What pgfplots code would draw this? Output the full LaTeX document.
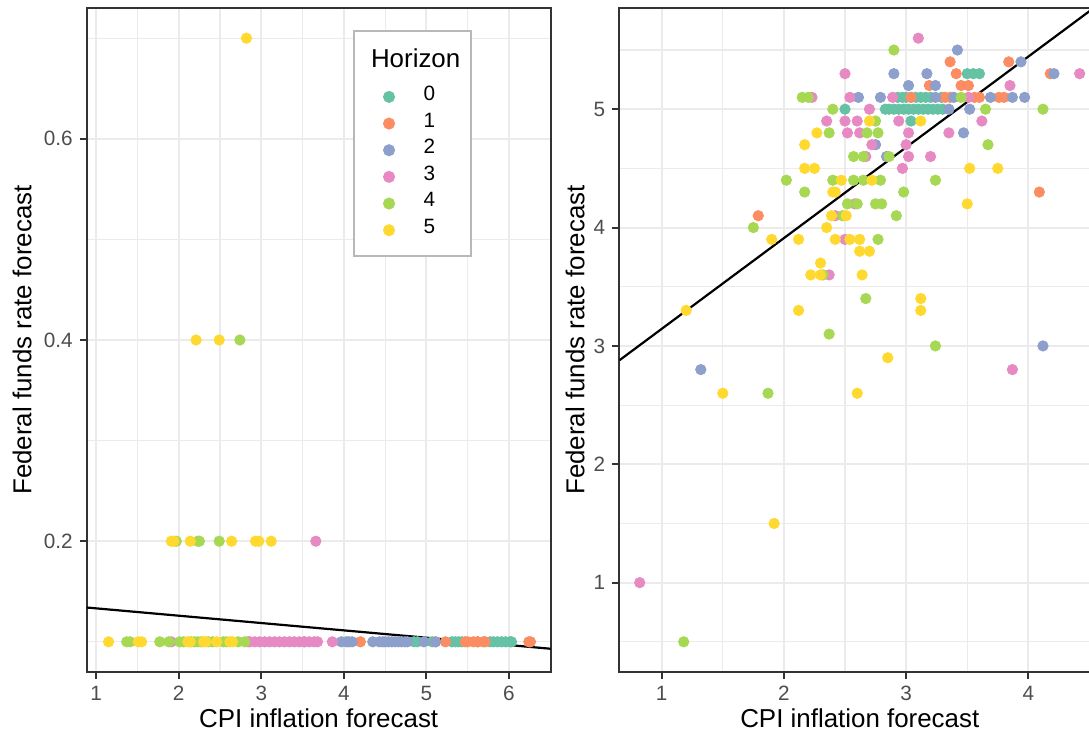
\documentclass[border=0pt]{standalone}
\usepackage{fontspec}
\setmainfont{Liberation Sans}
\usepackage{pgfplots}
\pgfplotsset{compat=1.18}

\definecolor{hzero}{RGB}{102,194,165}
\definecolor{hone}{RGB}{252,141,98}
\definecolor{htwo}{RGB}{141,160,203}
\definecolor{hthree}{RGB}{231,138,195}
\definecolor{hfour}{RGB}{166,216,84}
\definecolor{hfive}{RGB}{255,217,47}
\definecolor{gridcol}{RGB}{235,235,235}
\definecolor{ticktxt}{RGB}{77,77,77}
\definecolor{framecol}{RGB}{51,51,51}

\pgfplotsset{
  ggbw/.style={
    scale only axis,
    height=332bp,
    axis line style={framecol, line width=1bp},
    major tick style={framecol, line width=1bp},
    tick align=outside, tick pos=left,
    major tick length=3.5bp, minor tick length=0pt,
    grid=both,
    major grid style={gridcol, line width=1bp},
    minor grid style={gridcol, line width=0.55bp},
    ticklabel style={font=\fontsize{10.4}{12}\selectfont, text=ticktxt},
    label style={font=\fontsize{13}{15}\selectfont},
    /pgf/number format/assume math mode=true,
  },
  pts/.style={only marks, mark=*, mark size=2.6bp, mark options={draw=#1, fill=#1}, color=#1},
}
\tikzset{
  entry/.style={text height=8.39bp, text depth=4.94bp},
  legtitle/.style={text height=12.02bp, text depth=8.18bp},
}
\newcommand\hz[1]{\makebox[23.65bp][l]{#1}}

\begin{document}
\begin{tikzpicture}
\path[use as bounding box] (0,0) rectangle (544.5bp,368bp);

% ---------- left panel ----------
\begin{axis}[ggbw,
  at={(43.35bp,32bp)}, anchor=south west,
  width=232bp,
  xmin=0.885, xmax=6.505,
  ymin=0.07, ymax=0.73,
  xtick={1,2,3,4,5,6},
  minor xtick={1.5,2.5,3.5,4.5,5.5,6.5},
  ytick={0.2,0.4,0.6},
  minor ytick={0.1,0.3,0.5,0.7},
  yticklabel style={/pgf/number format/fixed, /pgf/number format/precision=1, /pgf/number format/fixed zerofill},
  xlabel={CPI inflation forecast},
  ylabel={Federal funds rate forecast},
  xlabel style={at={(axis description cs:0.5,-0.083)}, anchor=base},
  ylabel style={at={(axis description cs:-0.139,0.5)}, anchor=center},
  legend style={at={(axis description cs:0.574,0.967)}, anchor=north west,
    draw=black!28, line width=1bp, fill=white,
    font=\fontsize{10.4}{12}\selectfont,
    column sep=0pt, row sep=0pt, inner xsep=0pt, inner ysep=6.13bp,
    nodes={inner sep=0pt, anchor=west}},
  legend cell align=left,
  legend image code/.code={\draw[#1, mark size=2.5bp] plot coordinates {(0bp,0bp)}; \path (-17bp,0bp) (16.85bp,0bp);},
]
\addlegendimage{empty legend}
\addlegendentry[legtitle]{\makebox[0pt][l]{\hspace*{-26.85bp}\fontsize{13}{15}\selectfont Horizon}}

\addplot[pts=hzero] coordinates {
(4.85,0.1) (4.89,0.1) (5.07,0.1) (5.31,0.1) (5.35,0.1) (5.39,0.1) (5.43,0.1)
(5.62,0.1) (5.77,0.1) (5.81,0.1) (5.86,0.1) (5.91,0.1) (5.96,0.1) (6.01,0.1) (6.03,0.1)};
\addlegendentry[entry]{\hz{0}}

\addplot[pts=hone] coordinates {
(4.20,0.1) (5.11,0.1) (5.23,0.1) (5.47,0.1) (5.50,0.1) (5.57,0.1) (5.62,0.1)
(5.69,0.1) (5.71,0.1) (6.24,0.1) (6.26,0.1)};
\addlegendentry[entry]{\hz{1}}

\addplot[pts=htwo] coordinates {
(3.52,0.1) (3.97,0.1) (4.03,0.1) (4.06,0.1) (4.10,0.1) (4.35,0.1) (4.43,0.1)
(4.47,0.1) (4.50,0.1) (4.54,0.1) (4.58,0.1) (4.62,0.1) (4.66,0.1) (4.70,0.1)
(4.74,0.1) (4.77,0.1) (4.97,0.1) (5.11,0.1)};
\addlegendentry[entry]{\hz{2}}

\addplot[pts=hthree] coordinates {
(1.91,0.1) (2.84,0.1) (2.86,0.1) (2.92,0.1) (2.98,0.1) (3.04,0.1) (3.10,0.1)
(3.16,0.1) (3.22,0.1) (3.28,0.1) (3.34,0.1) (3.40,0.1) (3.46,0.1) (3.52,0.1)
(3.58,0.1) (3.64,0.1) (3.68,0.1) (3.86,0.1) (3.66,0.2)};
\addlegendentry[entry]{\hz{3}}

\addplot[pts=hfour] coordinates {
(1.37,0.1) (1.41,0.1) (1.77,0.1) (1.88,0.1) (2.01,0.1) (2.06,0.1) (2.15,0.1)
(2.19,0.1) (2.23,0.1) (2.27,0.1) (2.36,0.1) (2.41,0.1) (2.54,0.1) (2.58,0.1)
(2.72,0.1) (2.80,0.1)
(1.97,0.2) (2.23,0.2) (2.25,0.2) (2.49,0.2) (2.74,0.4)};
\addlegendentry[entry]{\hz{4}}

\addplot[pts=hfive] coordinates {
(1.15,0.1) (1.51,0.1) (1.55,0.1) (2.11,0.1) (2.14,0.1) (2.30,0.1) (2.33,0.1)
(2.46,0.1) (2.62,0.1) (2.65,0.1)
(1.91,0.2) (1.94,0.2) (2.14,0.2) (2.64,0.2) (2.93,0.2) (2.97,0.2) (3.12,0.2)
(2.21,0.4) (2.49,0.4) (2.82,0.7)};
\addlegendentry[entry]{\hz{5}}

\addplot[black, line width=1.1bp, forget plot] coordinates {(0.885,0.1341) (6.505,0.0931)};
\end{axis}

% ---------- right panel ----------
\begin{axis}[ggbw,
  at={(309.65bp,32bp)}, anchor=south west,
  width=240bp,
  xmin=0.653, xmax=4.581,
  ymin=0.245, ymax=5.855,
  xtick={1,2,3,4},
  minor xtick={1.5,2.5,3.5,4.5},
  ytick={1,2,3,4,5},
  minor ytick={0.5,1.5,2.5,3.5,4.5,5.5},
  xlabel={CPI inflation forecast},
  ylabel={Federal funds rate forecast},
  xlabel style={at={(axis description cs:0.501,-0.083)}, anchor=base},
  ylabel style={at={(axis description cs:-0.0923,0.5)}, anchor=center},
]
\addplot[pts=hzero] coordinates {
(2.50,5.0) (3.04,4.9)
(2.93,5.1) (2.97,5.1) (3.00,5.1) (3.04,5.1) (3.08,5.1) (3.12,5.1) (3.16,5.1) (3.20,5.1) (3.29,5.1)
(2.83,5.0) (2.86,5.0) (2.90,5.0) (2.94,5.0) (2.98,5.0) (3.02,5.0) (3.06,5.0) (3.10,5.0)
(3.14,5.0) (3.18,5.0) (3.22,5.0) (3.26,5.0) (3.30,5.0)
(3.50,5.3) (3.55,5.3) (3.60,5.3)};

\addplot[pts=hone] coordinates {
(3.36,5.4) (3.84,5.4) (3.41,5.3) (4.18,5.3) (3.19,5.2) (3.45,5.2) (3.51,5.2)
(3.04,5.1) (3.32,5.1) (3.36,5.1) (3.56,5.1) (3.60,5.1) (3.76,5.1) (3.80,5.1)
(4.09,4.3) (1.79,4.1)};

\addplot[pts=htwo] coordinates {
(3.42,5.5) (3.94,5.4) (2.90,5.3) (3.17,5.3) (4.21,5.3) (3.02,5.2) (3.24,5.2)
(2.61,5.1) (2.79,5.1) (3.24,5.1) (3.39,5.1) (3.69,5.1) (3.87,5.1) (3.97,5.1)
(3.35,5.0) (3.52,5.0) (3.47,4.8) (2.75,4.7) (2.84,4.6) (4.12,3.0) (1.32,2.8)};

\addplot[pts=hthree] coordinates {
(3.10,5.6) (2.50,5.3) (4.42,5.3) (3.85,5.2)
(2.23,5.1) (2.54,5.1) (2.89,5.1) (3.51,5.1) (2.70,5.0)
(2.35,4.9) (2.50,4.9) (2.60,4.9) (2.94,4.9) (3.62,4.9)
(2.52,4.8) (2.62,4.8) (3.02,4.8) (3.35,4.8)
(2.72,4.7) (3.00,4.7) (2.67,4.6) (3.02,4.6) (3.20,4.6) (2.97,4.5)
(2.58,4.2) (2.42,4.1) (2.50,3.9) (2.37,3.6) (3.87,2.8) (0.82,1.0)};

\addplot[pts=hfour] coordinates {
(2.90,5.5) (2.15,5.1) (2.20,5.1) (3.45,5.1) (2.40,5.0) (3.65,5.0) (4.12,5.0)
(2.75,4.9) (2.37,4.8) (2.68,4.8) (2.77,4.8) (3.67,4.7)
(2.57,4.6) (2.65,4.6) (2.86,4.6)
(2.02,4.4) (2.40,4.4) (2.57,4.4) (2.65,4.4) (2.79,4.4) (3.24,4.4)
(2.17,4.3) (2.98,4.3) (2.52,4.2) (2.60,4.2) (2.75,4.2) (2.80,4.2)
(2.48,4.1) (2.92,4.1) (1.75,4.0) (2.77,3.9) (2.32,3.6) (2.67,3.4)
(2.37,3.1) (3.24,3.0) (1.87,2.6) (1.18,0.5)};

\addplot[pts=hfive] coordinates {
(2.70,4.9) (3.12,4.9) (2.27,4.8) (2.17,4.7)
(2.17,4.5) (2.25,4.5) (3.52,4.5) (3.75,4.5) (2.47,4.4) (2.72,4.4)
(2.40,4.3) (2.42,4.3) (3.50,4.2) (2.39,4.1) (2.51,4.1) (2.35,4.0)
(1.90,3.9) (2.12,3.9) (2.42,3.9) (2.54,3.9) (2.62,3.9) (2.62,3.8) (2.70,3.8)
(2.30,3.7) (2.22,3.6) (2.30,3.6) (2.64,3.6) (3.12,3.4)
(1.20,3.3) (2.12,3.3) (3.12,3.3) (2.85,2.9) (1.50,2.6) (2.60,2.6) (1.92,1.5)};

\addplot[black, line width=1.1bp] coordinates {(0.653,2.878) (4.581,5.890)};
\end{axis}
\end{tikzpicture}
\end{document}
